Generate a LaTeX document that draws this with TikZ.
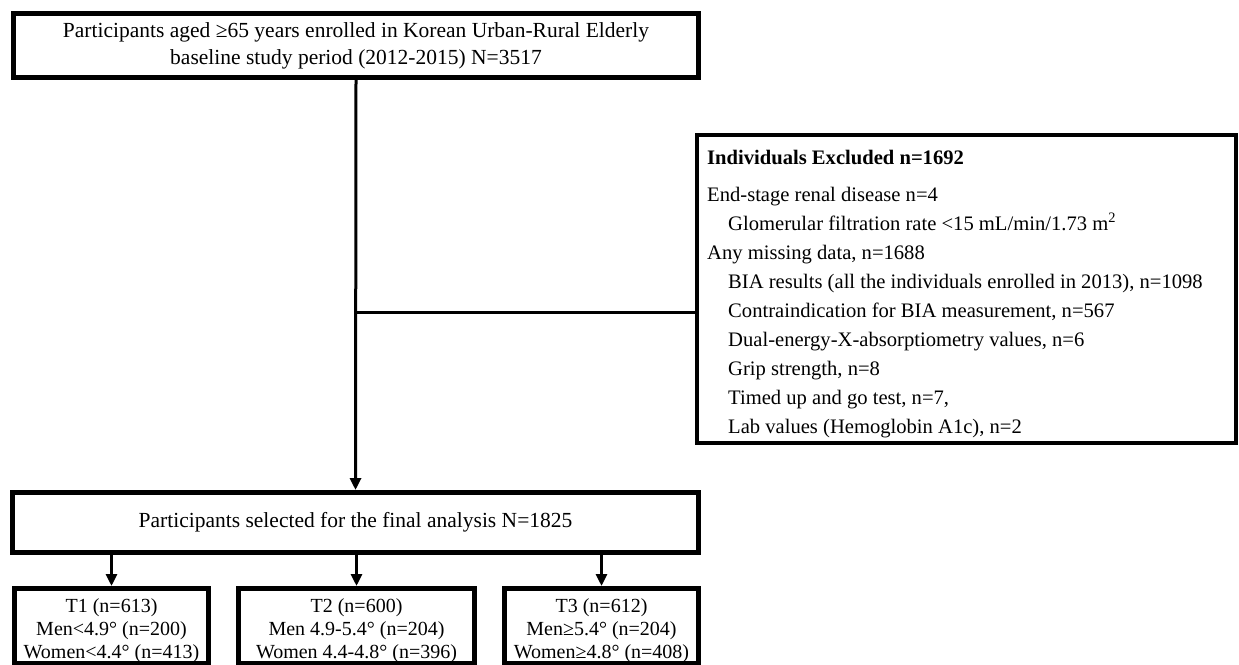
\documentclass[tikz,border=0pt]{standalone}
\usepackage{fontspec}
\setmainfont{Liberation Serif}
\usetikzlibrary{arrows.meta}
\begin{document}
\begin{tikzpicture}[x=1pt,y=-1pt,
  box/.style={draw,line width=5pt,rectangle,inner sep=0pt,anchor=north west},
  txt/.style={font=\fontsize{21.5}{27}\selectfont,align=center,inner sep=0pt},
  ttxt/.style={font=\fontsize{20}{23}\selectfont,align=center,inner sep=0pt},
  conn/.style={line width=3pt},
  arr/.style={line width=3pt,-{Triangle[width=11pt,length=12pt]}}]
\useasboundingbox[fill=white] (0,0) rectangle (1239,664);

% top box
\node[box,minimum width=685pt,minimum height=64pt] (top) at (11,11) {};
\node[txt] (toptext) at (top.center) {Participants aged ≥65 years enrolled in Korean Urban-Rural Elderly\\baseline study period (2012-2015) N=3517};

% exclusion box
\node[box,line width=4pt,minimum width=539pt,minimum height=308pt] (excl) at (695,133) {};
\node[font=\fontsize{20.6}{29}\selectfont,align=left,inner sep=0pt,anchor=north west] (excltext) at (707,150)
{\textbf{Individuals Excluded n=1692}\\[8pt]
End-stage renal disease n=4\\
\hspace*{21pt}Glomerular filtration rate <15 mL/min/1.73 m\textsuperscript{2}\\
Any missing data, n=1688\\
\hspace*{21pt}BIA results (all the individuals enrolled in 2013), n=1098\\
\hspace*{21pt}Contraindication for BIA measurement, n=567\\
\hspace*{21pt}Dual-energy-X-absorptiometry values, n=6\\
\hspace*{21pt}Grip strength, n=8\\
\hspace*{21pt}Timed up and go test, n=7,\\
\hspace*{21pt}Lab values (Hemoglobin A1c), n=2};

% final box
\node[box,minimum width=686pt,minimum height=60pt] (final) at (10,490) {};
\node[txt] (finaltext) at (final.center) {Participants selected for the final analysis N=1825};

% tertile boxes
\node[box,minimum width=194pt,minimum height=75pt] (t1) at (12,586) {};
\node[box,minimum width=236pt,minimum height=75pt] (t2) at (236,586) {};
\node[box,minimum width=194pt,minimum height=75pt] (t3) at (502,586) {};
\node[ttxt,yshift=-5pt] (t1text) at (t1.center) {T1 (n=613)\\Men<4.9° (n=200)\\Women<4.4° (n=413)};
\node[ttxt,yshift=-5pt] (t2text) at (t2.center) {T2 (n=600)\\Men 4.9-5.4° (n=204)\\Women 4.4-4.8° (n=396)};
\node[ttxt,yshift=-5pt] (t3text) at (t3.center) {T3 (n=612)\\Men≥5.4° (n=204)\\Women≥4.8° (n=408)};

% connectors
\draw[arr] (top.south) -- (final.north);
\coordinate (br) at (356,312);
\draw[conn] (br) -- (br -| excl.west);
\draw[arr] (final.south -| t1.north) -- (t1.north);
\draw[arr] (final.south -| t2.north) -- (t2.north);
\draw[arr] (final.south -| t3.north) -- (t3.north);
\end{tikzpicture}
\end{document}
